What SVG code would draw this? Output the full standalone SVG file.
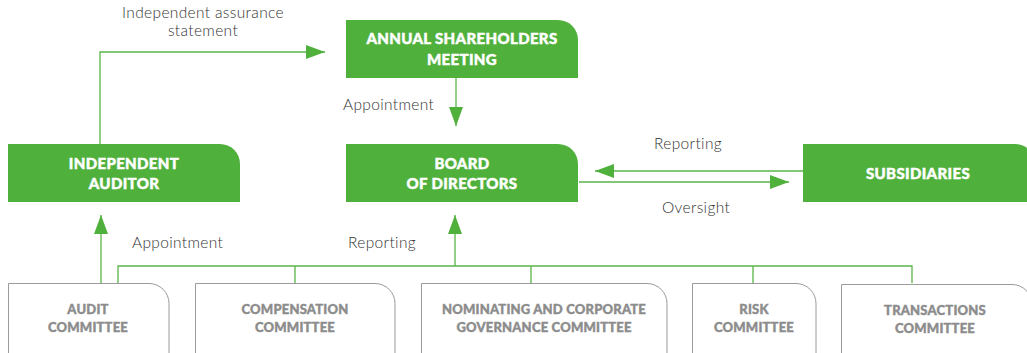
<svg xmlns="http://www.w3.org/2000/svg" width="1027" height="353" viewBox="0 0 1027 353">
<defs>
<style>
.box{fill:#50b03c}
.cbox{fill:#fff;stroke:#9a9a9a;stroke-width:1}
.nt{font-family:Lato,"Liberation Sans",sans-serif;font-weight:900;font-size:15px;letter-spacing:0.35px;fill:#fff;stroke:#fff;stroke-width:0.45px;text-anchor:middle}
.ct{font-family:Lato,"Liberation Sans",sans-serif;font-weight:900;font-size:13px;letter-spacing:0.2px;fill:#8c8c8c;stroke:#8c8c8c;stroke-width:0.4px;text-anchor:middle}
.lb{font-family:Lato,"Liberation Sans",sans-serif;font-weight:300;font-size:15.5px;letter-spacing:0.35px;fill:#333}
.ln{fill:none;stroke:#5ab548;stroke-width:1.3}
</style>
<marker id="ah" markerUnits="userSpaceOnUse" markerWidth="20" markerHeight="16" refX="19" refY="7" orient="auto">
<path d="M0,0 L19,7 L0,14 Z" fill="#50b03c"/>
</marker>
</defs>

<g id="connectors">
<path class="ln" d="M100,144 V52 H325" marker-end="url(#ah)"/>
<path class="ln" d="M456,78 V126" marker-end="url(#ah)"/>
<path class="ln" d="M803,171 H595" marker-end="url(#ah)"/>
<path class="ln" d="M579,182 H789" marker-end="url(#ah)"/>
<path class="ln" d="M101,283 V215" marker-end="url(#ah)"/>
<path class="ln" d="M455,266 V215" marker-end="url(#ah)"/>
<path class="ln" d="M118,283 V266 H912 V283"/>
<path class="ln" d="M295,266 V283 M531,266 V283 M753,266 V283"/>
</g>

<g id="labels">
<text class="lb" x="203" y="18" text-anchor="middle">Independent assurance</text>
<text class="lb" x="203" y="36" text-anchor="middle">statement</text>
<text class="lb" x="343" y="110">Appointment</text>
<text class="lb" x="132" y="248">Appointment</text>
<text class="lb" x="348" y="248">Reporting</text>
<text class="lb" x="654" y="149">Reporting</text>
<text class="lb" x="662" y="213">Oversight</text>
</g>

<g id="annual">
<path class="box" d="M346,20 H558 A20,20 0 0 1 578,40 V78 H346 Z"/>
<text class="nt" x="462" y="44">ANNUAL SHAREHOLDERS</text>
<text class="nt" x="462" y="65">MEETING</text>
</g>

<g id="auditor">
<path class="box" d="M8,144 H220 A20,20 0 0 1 240,164 V202 H8 Z"/>
<text class="nt" x="124" y="169">INDEPENDENT</text>
<text class="nt" x="124" y="189">AUDITOR</text>
</g>

<g id="board">
<path class="box" d="M346,144 H558 A20,20 0 0 1 578,164 V202 H346 Z"/>
<text class="nt" x="462" y="169">BOARD</text>
<text class="nt" x="462" y="189">OF DIRECTORS</text>
</g>

<g id="subsidiaries">
<path class="box" d="M803,144 H1015 A20,20 0 0 1 1035,164 V202 H803 Z"/>
<text class="nt" x="918" y="179">SUBSIDIARIES</text>
</g>

<g id="audit">
<path class="cbox" d="M8.5,360 V283.5 H149 A20,20 0 0 1 169,303.5 V360"/>
<text class="ct" x="88" y="314">AUDIT</text>
<text class="ct" x="88" y="332">COMMITTEE</text>
</g>

<g id="compensation">
<path class="cbox" d="M195.5,360 V283.5 H375 A20,20 0 0 1 395,303.5 V360"/>
<text class="ct" x="295" y="314">COMPENSATION</text>
<text class="ct" x="295" y="332">COMMITTEE</text>
</g>

<g id="nominating">
<path class="cbox" d="M421.5,360 V283.5 H647 A20,20 0 0 1 667,303.5 V360"/>
<text class="ct" x="544" y="314">NOMINATING AND CORPORATE</text>
<text class="ct" x="544" y="332">GOVERNANCE COMMITTEE</text>
</g>

<g id="risk">
<path class="cbox" d="M692.5,360 V283.5 H796 A20,20 0 0 1 816,303.5 V360"/>
<text class="ct" x="754" y="314">RISK</text>
<text class="ct" x="754" y="332">COMMITTEE</text>
</g>

<g id="transactions">
<path class="cbox" d="M841.5,360 V284.5 H1012 A20,20 0 0 1 1032,304.5 V360"/>
<text class="ct" x="935" y="315">TRANSACTIONS</text>
<text class="ct" x="935" y="333">COMMITTEE</text>
</g>
</svg>
